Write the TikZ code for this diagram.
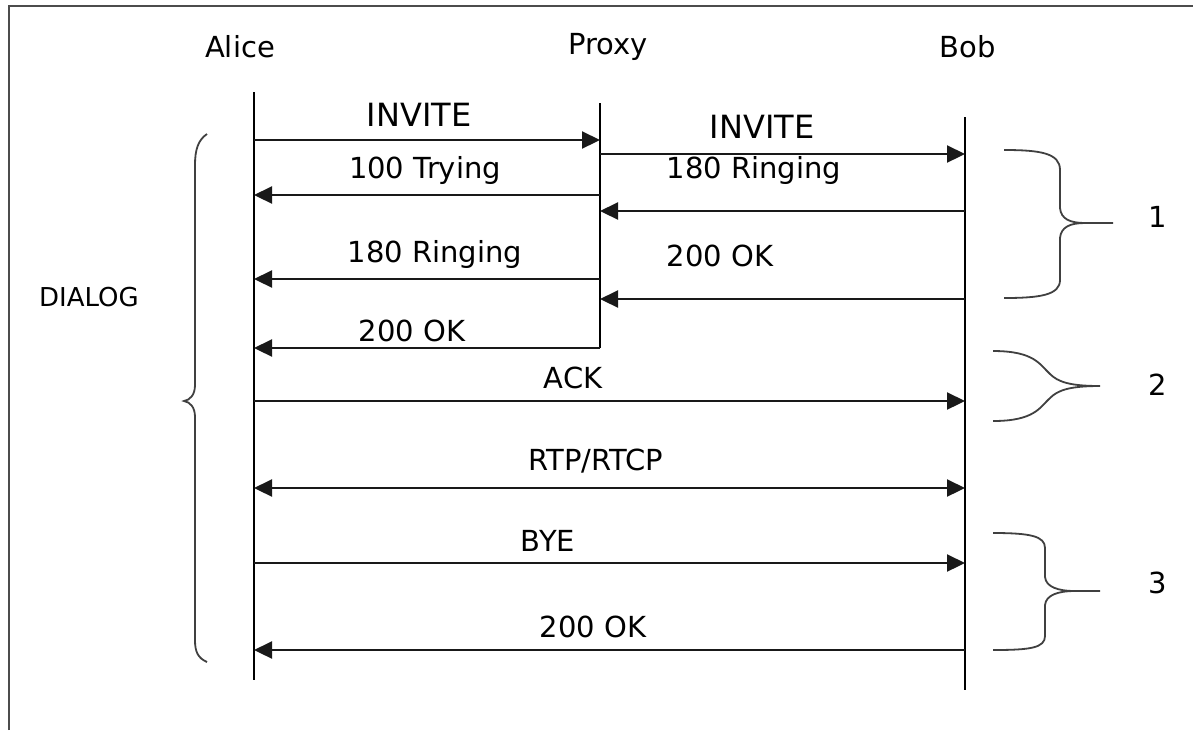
\documentclass[tikz,border=0pt]{standalone}
\usepackage{fontspec}
\setmainfont{DejaVu Sans}
\usetikzlibrary{arrows.meta}

\begin{document}
\begin{tikzpicture}[
  x=0.5pt, y=-0.5pt,
  actor/.style={font=\fontsize{14.5}{17}\selectfont, inner sep=0pt},
  lbl/.style={font=\fontsize{14.5}{17}\selectfont, inner sep=0pt},
  life/.style={line width=1pt, black},
  msg/.style={line width=1.1pt, black!90, -{Triangle[length=9pt, width=8.5pt]}},
  brace/.style={line width=0.9pt, black!75}
]
\useasboundingbox (0,0) rectangle (1193,730);

% Frame (top and left edge)
\draw[line width=1.2pt, black!70] (9,730) -- (9,6) -- (1193,6);

% Participants
\node[actor] (alice) at (240,47) {Alice};
\node[actor] (proxy) at (608,47) {Proxy};
\node[actor] (bob)   at (968,47) {Bob};

% Lifelines
\coordinate (aTop) at (254,92);  \coordinate (aBot) at (254,680);
\coordinate (pTop) at (600,103); \coordinate (pBot) at (600,348);
\coordinate (bTop) at (965,117); \coordinate (bBot) at (965,690);
\draw[life] (aTop) -- (aBot);
\draw[life] (pTop) -- (pBot);
\draw[life] (bTop) -- (bBot);

% Message rows
\coordinate (a1) at (254,140); \coordinate (p1) at (600,140);
\coordinate (p2) at (600,154); \coordinate (b2) at (965,154);
\coordinate (a3) at (254,195); \coordinate (p3) at (600,195);
\coordinate (p4) at (600,211); \coordinate (b4) at (965,211);
\coordinate (a5) at (254,279); \coordinate (p5) at (600,279);
\coordinate (p6) at (600,299); \coordinate (b6) at (965,299);
\coordinate (a7) at (254,348);
\coordinate (a8) at (254,401); \coordinate (b8) at (965,401);
\coordinate (a9) at (254,488); \coordinate (b9) at (965,488);
\coordinate (a10) at (254,563); \coordinate (b10) at (965,563);
\coordinate (a11) at (254,650); \coordinate (b11) at (965,650);

% Messages
\draw[msg] (a1) -- (p1);
\draw[msg] (p2) -- (b2);
\draw[msg] (p3) -- (a3);
\draw[msg] (b4) -- (p4);
\draw[msg] (p5) -- (a5);
\draw[msg] (b6) -- (p6);
\draw[msg] (pBot) -- (a7);
\draw[msg] (a8) -- (b8);
\draw[msg, {Triangle[length=9pt, width=8.5pt]}-{Triangle[length=9pt, width=8.5pt]}] (a9) -- (b9);
\draw[msg] (a10) -- (b10);
\draw[msg] (b11) -- (a11);

% Message labels
\node[lbl, font=\fontsize{16}{18}\selectfont] (invA) at (419,115) {INVITE};
\node[lbl, font=\fontsize{16}{18}\selectfont] (invB) at (762,127) {INVITE};
\node[lbl] (tryA)  at (425,170) {100 Trying};
\node[lbl] (ringB) at (754,170) {180 Ringing};
\node[lbl] (ringA) at (435,254) {180 Ringing};
\node[lbl] (okB)   at (720,256) {200 OK};
\node[lbl] (okA)   at (412,331) {200 OK};
\node[lbl] (ack)   at (573,378) {ACK};
\node[lbl] (rtp)   at (596,461) {RTP/RTCP};
\node[lbl] (bye)   at (548,541) {BYE};
\node[lbl] (okEnd) at (593,627) {200 OK};

% Dialog brace (left)
\draw[brace] (207,134) .. controls (198,140) and (195,150) .. (195,165) -- (195,385)
  .. controls (195,395) and (190,400) .. (184,401)
  .. controls (190,402) and (195,407) .. (195,417) -- (195,640)
  .. controls (195,652) and (198,658) .. (207,662);
\node[lbl, font=\fontsize{13}{15}\selectfont] (dialog) at (89,297) {DIALOG};

% Phase braces (right)
\draw[brace] (1004,150) .. controls (1040,150) and (1060,153) .. (1060,170) -- (1060,208)
  .. controls (1061,219) and (1070,223) .. (1085,223) -- (1113,223) -- (1085,223)
  .. controls (1070,223) and (1061,227) .. (1060,238) -- (1060,280)
  .. controls (1060,295) and (1040,298) .. (1004,298);
\node[lbl] (ph1) at (1158,217) {1};

\draw[brace] (993,351) .. controls (1035,351) and (1040,365) .. (1050,374)
  .. controls (1058,382) and (1070,386) .. (1100,386)
  .. controls (1070,386) and (1058,390) .. (1050,398)
  .. controls (1040,407) and (1035,421) .. (993,421);
\node[lbl] (ph2) at (1158,385) {2};

\draw[brace] (993,533) .. controls (1030,533) and (1045,536) .. (1045,548) -- (1045,577)
  .. controls (1046,587) and (1058,591) .. (1075,591) -- (1100,591) -- (1075,591)
  .. controls (1058,591) and (1046,595) .. (1045,605) -- (1045,636)
  .. controls (1045,648) and (1030,650) .. (993,650);
\node[lbl] (ph3) at (1158,583) {3};

\end{tikzpicture}
\end{document}
